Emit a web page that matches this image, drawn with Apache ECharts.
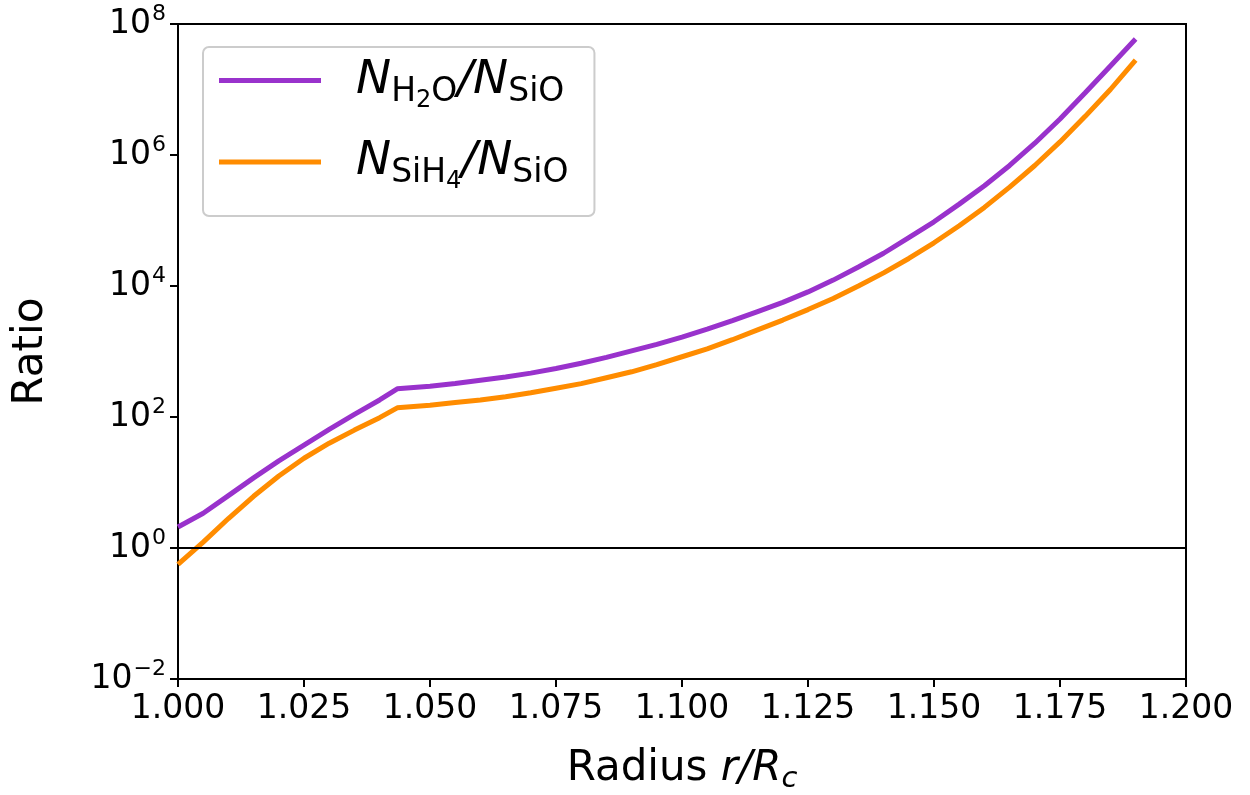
<!DOCTYPE html>
<html>
<head>
    <meta charset="utf-8">
    <title>Ratio vs radius</title>
    <script src="https://cdn.jsdelivr.net/npm/echarts@6/dist/echarts.min.js"></script>
</head>
<body style="margin:0">
<div id="main" style="width:1250px;height:795px;"></div>
<script type="text/javascript">
    // radius r/Rc (shared by both curves)
    var radius = [1.000, 1.005, 1.010, 1.015, 1.020, 1.025, 1.030, 1.035, 1.040, 1.0435,
        1.050, 1.055, 1.060, 1.065, 1.070, 1.075, 1.080, 1.085, 1.090, 1.095,
        1.100, 1.105, 1.110, 1.115, 1.120, 1.125, 1.130, 1.135, 1.140, 1.145,
        1.150, 1.155, 1.160, 1.165, 1.170, 1.175, 1.180, 1.185, 1.190];

    // log10 of the ratios
    var h2oLog = [0.32, 0.53, 0.80, 1.07, 1.33, 1.57, 1.81, 2.04, 2.26, 2.43,
        2.47, 2.51, 2.56, 2.61, 2.67, 2.74, 2.82, 2.91, 3.01, 3.11,
        3.22, 3.34, 3.47, 3.61, 3.75, 3.91, 4.09, 4.29, 4.50, 4.74,
        4.98, 5.25, 5.53, 5.84, 6.18, 6.55, 6.95, 7.36, 7.77];
    var sih4Log = [-0.25, 0.09, 0.45, 0.79, 1.10, 1.37, 1.60, 1.80, 1.99, 2.14,
        2.18, 2.22, 2.26, 2.31, 2.37, 2.44, 2.51, 2.60, 2.69, 2.80,
        2.92, 3.04, 3.18, 3.33, 3.48, 3.64, 3.81, 4.00, 4.20, 4.42,
        4.66, 4.92, 5.20, 5.51, 5.84, 6.20, 6.59, 7.00, 7.45];

    var xTicks = ['1.000', '1.025', '1.050', '1.075', '1.100', '1.125', '1.150', '1.175', '1.200'];

    function pairs(logs) {
        return radius.map(function (r, i) { return [r, Math.pow(10, logs[i])]; });
    }

    var font = 'DejaVu Sans';
    var myChart = echarts.init(document.getElementById('main'));

    var option = {
        backgroundColor: '#fff',
        animation: false,
        textStyle: { fontFamily: font },
        grid: {
            left: 178, right: 64, top: 24, bottom: 116,
            show: true, borderColor: '#000', borderWidth: 2,
            outerBoundsMode: 'none'
        },
        legend: {
            orient: 'vertical',
            left: 203, top: 47,
            padding: [10, 26, 22, 16],
            itemGap: 26,
            itemWidth: 102, itemHeight: 5,
            icon: 'rect',
            backgroundColor: '#fff',
            borderColor: '#ccc', borderWidth: 2, borderRadius: 6,
            data: ['H2O', 'SiH4'],
            formatter: function (name) {
                if (name === 'H2O') return '{i|N}{s|H}{t|2}{s|O}{n|/}{i|N}{s|SiO}';
                return '{i|N}{s|SiH}{t|4}{n|/}{i|N}{s|SiO}';
            },
            textStyle: {
                padding: [0, 0, 0, 30],
                rich: {
                    i: { fontFamily: font, fontStyle: 'italic', fontSize: 47, color: '#000' },
                    n: { fontFamily: font, fontStyle: 'italic', fontSize: 47, color: '#000' },
                    s: { fontFamily: font, fontSize: 33, color: '#000', padding: [23, 0, 0, 0] },
                    t: { fontFamily: font, fontSize: 24, color: '#000', padding: [40, 0, 0, 0] }
                }
            }
        },
        xAxis: {
            type: 'value',
            min: 1.0, max: 1.2, interval: 0.025,
            name: '{n|Radius }{i|r/R}{s|c}',
            nameLocation: 'middle',
            nameGap: 66,
            nameTextStyle: {
                rich: {
                    n: { fontFamily: font, fontSize: 42, color: '#000' },
                    i: { fontFamily: font, fontStyle: 'italic', fontSize: 42, color: '#000' },
                    s: { fontFamily: font, fontStyle: 'italic', fontSize: 29, color: '#000', padding: [20, 0, 0, 0] }
                }
            },
            axisLine: { show: true, lineStyle: { color: '#000', width: 2 } },
            axisTick: { show: true, length: 8, lineStyle: { color: '#000', width: 2 } },
            axisLabel: {
                color: '#000', fontSize: 33, margin: 14,
                formatter: function (v) {
                    var idx = Math.round((v - 1.0) / 0.025);
                    return xTicks[idx];
                }
            },
            splitLine: { show: false }
        },
        yAxis: {
            type: 'log',
            logBase: 10,
            min: 0.01, max: 1e8, interval: 2,
            name: 'Ratio',
            nameLocation: 'middle',
            nameGap: 126,
            nameRotate: 90,
            nameTextStyle: { fontSize: 42, color: '#000', fontFamily: font },
            axisLine: { show: true, lineStyle: { color: '#000', width: 2 } },
            axisTick: { show: true, length: 8, lineStyle: { color: '#000', width: 2 } },
            minorTick: { show: false },
            axisLabel: {
                color: '#000', margin: 12,
                formatter: function (v) {
                    var e = Math.round(Math.log10(v));
                    return '{b|10}{p|' + String(e).replace('-', '−') + '}';
                },
                rich: {
                    b: { fontFamily: font, fontSize: 33, color: '#000' },
                    p: { fontFamily: font, fontSize: 22, color: '#000', padding: [0, 0, 20, 1] }
                }
            },
            splitLine: { show: false }
        },
        series: [{
            name: 'H2O',
            type: 'line',
            data: pairs(h2oLog),
            showSymbol: false,
            lineStyle: { color: '#9932CC', width: 5 },
            itemStyle: { color: '#9932CC' },
            z: 3
        }, {
            name: 'SiH4',
            type: 'line',
            data: pairs(sih4Log),
            showSymbol: false,
            lineStyle: { color: '#FF8C00', width: 5 },
            itemStyle: { color: '#FF8C00' },
            z: 3,
            markLine: {
                silent: true,
                symbol: 'none',
                label: { show: false },
                lineStyle: { color: '#000', width: 2, type: 'solid' },
                data: [{ yAxis: 1 }]
            }
        }]
    };

    myChart.setOption(option);
</script>
</body>
</html>
